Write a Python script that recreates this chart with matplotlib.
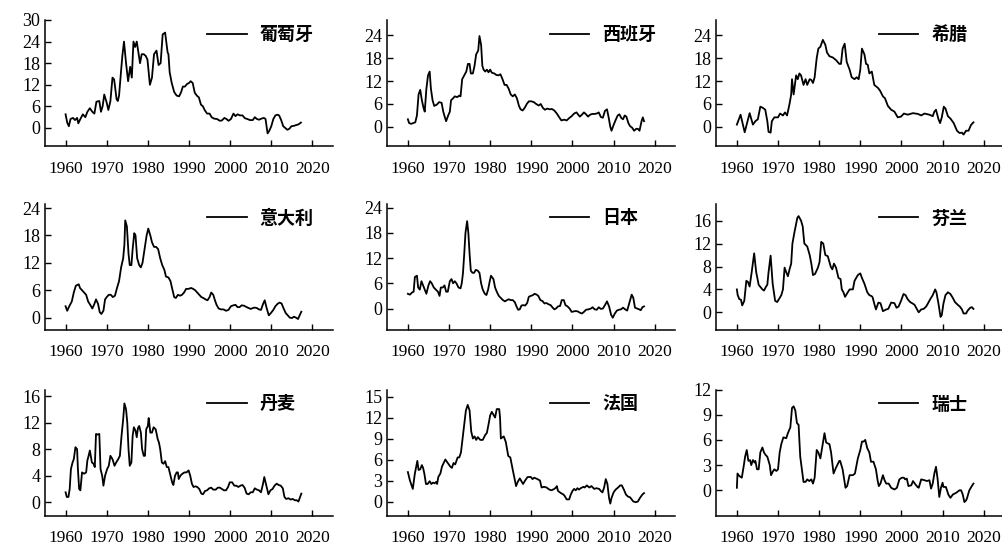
import matplotlib
matplotlib.use("Agg")
import matplotlib.pyplot as plt
import numpy as np

# ---- data: annual CPI inflation (%) ----
countries = ["葡萄牙", "西班牙", "希腊", "意大利", "日本", "芬兰", "丹麦", "法国", "瑞士"]
x_ticks = [1960, 1970, 1980, 1990, 2000, 2010, 2020]

portugal_t = [1960.0, 1960.4, 1960.8, 1961.2, 1961.8, 1962.3, 1962.8, 1963.1, 1963.6, 1964.2, 1964.8, 1965.3,
              1965.9, 1966.5, 1967.0, 1967.5, 1968.2, 1968.6, 1969.0, 1969.4, 1970.0, 1970.4, 1970.9, 1971.4,
              1971.8, 1972.4, 1972.7, 1973.0, 1973.5, 1973.8, 1974.2, 1974.7, 1975.2, 1975.7, 1976.1, 1976.5,
              1976.9, 1977.3, 1977.7, 1978.1, 1978.5, 1979.0, 1979.5, 1979.9, 1980.5, 1981.0, 1981.5, 1982.1,
              1982.6, 1983.1, 1983.6, 1984.2, 1984.8, 1985.0, 1985.3, 1985.8, 1986.4, 1987.0, 1987.6, 1988.1,
              1988.5, 1989.0, 1989.5, 1990.0, 1990.4, 1990.9, 1991.4, 1991.9, 1992.4, 1992.9, 1993.4, 1993.8,
              1994.4, 1995.0, 1995.5, 1996.1, 1996.8, 1997.5, 1998.0, 1998.6, 1999.1, 1999.6, 2000.2, 2000.8,
              2001.3, 2001.8, 2002.4, 2003.0, 2003.6, 2004.2, 2004.8, 2005.5, 2006.0, 2006.5, 2007.0, 2007.6,
              2008.2, 2008.6, 2009.1, 2009.5, 2010.0, 2010.5, 2011.0, 2011.5, 2011.9, 2012.4, 2012.9, 2013.4,
              2013.9, 2014.4, 2014.9, 2015.5, 2016.0, 2016.6, 2017.2]
portugal_v = [3.8, 1.5, 0.5, 2.5, 2.8, 2.2, 2.8, 1.3, 2.5, 3.8, 3.0, 4.5,
              5.5, 4.5, 4.0, 7.3, 7.5, 4.5, 6.0, 9.3, 7.0, 5.0, 7.5, 14.0,
              13.5, 8.0, 7.5, 9.0, 16.0, 20.0, 24.0, 18.0, 13.0, 17.0, 14.0, 24.0,
              22.5, 24.0, 21.0, 18.0, 20.5, 20.5, 20.0, 19.0, 12.0, 14.0, 20.5, 21.5,
              17.5, 18.0, 26.0, 26.5, 21.0, 20.5, 15.5, 12.5, 10.0, 9.0, 8.8, 10.0,
              11.5, 11.5, 12.2, 12.5, 13.0, 12.5, 9.8, 9.0, 8.5, 6.5, 6.0, 5.0,
              4.0, 4.0, 3.0, 2.6, 2.5, 2.0, 2.1, 2.8, 2.5, 2.0, 2.5, 4.0,
              3.3, 3.8, 3.5, 3.5, 2.7, 2.5, 2.2, 2.2, 3.0, 2.5, 2.3, 2.6,
              2.8, 2.5, -1.5, -0.8, 0.5, 2.5, 3.5, 3.7, 3.5, 2.2, 0.5, 0.0,
              -0.5, -0.2, 0.5, 0.6, 0.8, 1.0, 1.5]

spain_t = [1960.0, 1960.3, 1960.8, 1961.3, 1961.8, 1962.2, 1962.6, 1963.0, 1963.4, 1963.8, 1964.1, 1964.5,
           1964.9, 1965.3, 1965.6, 1966.0, 1966.4, 1967.0, 1967.6, 1968.2, 1968.6, 1969.0, 1969.3, 1969.8,
           1970.2, 1970.5, 1971.0, 1971.4, 1972.0, 1972.5, 1972.8, 1973.2, 1973.7, 1974.2, 1974.6, 1975.0,
           1975.3, 1975.8, 1976.2, 1976.6, 1977.1, 1977.4, 1977.8, 1978.1, 1978.4, 1978.8, 1979.2, 1979.6,
           1980.0, 1980.4, 1981.0, 1981.5, 1982.0, 1982.5, 1983.0, 1983.5, 1984.0, 1984.5, 1985.0, 1985.5,
           1986.0, 1986.5, 1987.0, 1987.4, 1987.9, 1988.4, 1988.9, 1989.4, 1990.0, 1990.6, 1991.2, 1991.8,
           1992.3, 1992.8, 1993.3, 1993.9, 1994.5, 1995.0, 1995.6, 1996.2, 1996.8, 1997.3, 1998.0, 1998.6,
           1999.2, 1999.8, 2000.4, 2001.0, 2001.4, 2001.8, 2002.3, 2002.8, 2003.3, 2003.8, 2004.3, 2004.8,
           2005.4, 2005.9, 2006.4, 2006.9, 2007.4, 2007.9, 2008.4, 2008.8, 2009.2, 2009.5, 2010.0, 2010.5,
           2011.0, 2011.4, 2011.9, 2012.3, 2012.7, 2013.1, 2013.6, 2014.0, 2014.5, 2015.0, 2015.5, 2015.9,
           2016.3, 2016.8, 2017.1, 2017.4]
spain_v = [2.0, 1.0, 0.8, 1.0, 1.2, 3.0, 8.5, 9.7, 7.0, 5.0, 4.0, 10.0,
           13.5, 14.5, 10.0, 7.0, 5.5, 5.8, 6.5, 6.3, 4.0, 2.5, 1.5, 3.0,
           4.0, 7.0, 7.5, 8.0, 7.8, 8.2, 8.0, 12.5, 13.5, 14.5, 16.5, 16.5,
           14.0, 14.0, 16.0, 19.0, 20.0, 23.8, 21.5, 16.0, 15.0, 14.5, 15.0, 14.3,
           15.0, 14.2, 14.0, 13.6, 13.5, 13.8, 12.5, 11.0, 11.0, 10.0, 8.5, 8.0,
           8.5, 7.5, 5.5, 4.6, 4.3, 5.0, 6.0, 6.7, 6.7, 6.5, 6.0, 5.6,
           6.0, 5.0, 4.5, 4.8, 4.6, 4.7, 4.3, 3.5, 2.5, 1.7, 1.9, 1.7,
           2.3, 2.8, 3.5, 3.8, 3.2, 2.7, 3.2, 3.8, 3.3, 2.7, 3.2, 3.4,
           3.4, 3.5, 3.8, 2.6, 2.4, 4.2, 4.6, 2.5, 0.0, -1.0, 0.5, 1.8,
           3.0, 3.3, 2.3, 2.0, 3.0, 2.7, 1.0, 0.2, -0.2, -1.0, -0.5, -0.5,
           -1.0, 1.5, 2.5, 1.5]

greece_t = [1960.0, 1960.9, 1961.9, 1963.1, 1963.9, 1964.5, 1965.1, 1965.7, 1966.3, 1966.9, 1967.4, 1967.7,
            1968.2, 1968.5, 1969.1, 1970.0, 1970.5, 1971.2, 1971.7, 1972.2, 1972.8, 1973.2, 1973.4, 1973.8,
            1974.4, 1974.8, 1975.2, 1975.6, 1976.2, 1976.7, 1977.1, 1977.7, 1978.1, 1978.5, 1978.9, 1979.4,
            1979.8, 1980.3, 1980.9, 1981.5, 1981.9, 1982.5, 1983.3, 1984.1, 1984.9, 1985.3, 1985.7, 1986.2,
            1986.7, 1987.4, 1987.9, 1988.6, 1989.1, 1989.6, 1990.0, 1990.4, 1991.0, 1991.4, 1991.8, 1992.2,
            1992.8, 1993.4, 1994.3, 1994.8, 1995.5, 1996.0, 1996.7, 1997.5, 1998.3, 1999.1, 1999.9, 2000.6,
            2001.5, 2002.8, 2004.0, 2004.8, 2005.6, 2006.8, 2007.6, 2008.0, 2008.4, 2009.0, 2009.4, 2009.8,
            2010.3, 2010.7, 2011.3, 2011.9, 2012.7, 2013.5, 2014.1, 2014.7, 2015.1, 2015.7, 2016.3, 2016.9,
            2017.5]
greece_v = [0.6, 3.2, -1.4, 3.6, 0.6, 1.5, 2.0, 5.3, 5.0, 4.5, 1.5, -1.3,
            -1.5, 1.5, 2.5, 2.5, 3.5, 3.0, 3.8, 3.0, 6.0, 8.5, 12.5, 8.5,
            13.5, 12.5, 14.0, 13.5, 11.0, 12.5, 11.0, 12.5, 12.3, 11.5, 13.0, 18.0,
            20.5, 21.0, 22.8, 21.5, 19.5, 18.5, 18.2, 17.5, 16.5, 16.5, 20.5, 21.8,
            17.0, 15.0, 13.0, 12.5, 13.0, 12.5, 15.0, 20.5, 19.0, 16.5, 16.3, 14.0,
            14.5, 11.0, 10.2, 9.5, 8.0, 7.5, 5.5, 4.5, 4.0, 2.5, 2.7, 3.5,
            3.2, 3.6, 3.4, 3.0, 3.5, 3.2, 2.8, 4.0, 4.5, 2.0, 1.0, 2.5,
            5.3, 4.8, 2.8, 2.2, 1.0, -1.0, -1.6, -1.5, -2.0, -1.0, -1.0, 0.5,
            1.2]

italy_t = [1960.0, 1960.4, 1960.9, 1961.5, 1962.0, 1962.5, 1963.2, 1963.5, 1964.0, 1964.5, 1965.0, 1965.5,
           1966.0, 1966.5, 1967.0, 1967.4, 1967.9, 1968.3, 1968.7, 1969.2, 1969.6, 1970.0, 1970.5, 1971.0,
           1971.5, 1972.0, 1972.5, 1973.0, 1973.5, 1974.0, 1974.3, 1974.5, 1974.9, 1975.3, 1975.6, 1976.0,
           1976.3, 1976.7, 1977.0, 1977.4, 1977.9, 1978.3, 1978.7, 1979.2, 1979.7, 1980.1, 1980.6, 1981.0,
           1981.5, 1982.0, 1982.5, 1983.0, 1983.5, 1984.0, 1984.4, 1985.0, 1985.5, 1986.0, 1986.4, 1986.8,
           1987.3, 1987.8, 1988.3, 1988.8, 1989.3, 1989.9, 1990.5, 1991.0, 1991.5, 1992.0, 1992.5, 1993.0,
           1993.5, 1994.0, 1994.5, 1995.0, 1995.4, 1995.9, 1996.3, 1996.7, 1997.2, 1997.8, 1998.4, 1999.0,
           1999.6, 2000.2, 2000.8, 2001.3, 2001.8, 2002.3, 2002.8, 2003.4, 2004.0, 2004.5, 2005.0, 2005.5,
           2006.0, 2006.5, 2007.0, 2007.5, 2008.0, 2008.4, 2008.9, 2009.4, 2009.9, 2010.5, 2011.0, 2011.5,
           2012.0, 2012.5, 2013.0, 2013.5, 2014.0, 2014.5, 2015.0, 2015.5, 2016.0, 2016.5, 2016.9, 2017.3]
italy_v = [2.5, 1.5, 2.5, 3.5, 5.5, 7.0, 7.3, 6.5, 6.0, 5.5, 5.0, 3.5,
           2.8, 2.0, 3.0, 4.0, 3.0, 1.2, 0.8, 1.5, 4.0, 4.5, 5.0, 5.0,
           4.5, 4.8, 6.5, 8.0, 11.0, 13.0, 16.0, 21.3, 20.0, 14.0, 11.5, 11.5,
           15.0, 18.5, 18.0, 13.0, 11.5, 11.0, 12.0, 15.0, 18.0, 19.5, 18.0, 16.5,
           15.5, 15.5, 15.0, 13.0, 11.5, 10.5, 9.0, 8.8, 8.0, 6.0, 4.5, 4.3,
           5.0, 4.8, 5.0, 5.5, 6.3, 6.3, 6.5, 6.3, 6.0, 5.5, 5.0, 4.5,
           4.3, 4.0, 3.8, 4.5, 5.5, 5.0, 3.8, 2.8, 2.0, 1.8, 1.8, 1.5,
           1.7, 2.5, 2.7, 2.8, 2.3, 2.3, 2.7, 2.6, 2.3, 2.1, 1.9, 2.1,
           2.2, 2.1, 1.8, 1.7, 3.0, 3.8, 2.0, 0.5, 1.0, 1.7, 2.5, 3.0,
           3.3, 3.1, 2.0, 1.0, 0.5, 0.0, -0.1, 0.2, 0.0, -0.3, 0.5, 1.3]

japan_t = [1960.0, 1960.5, 1961.0, 1961.4, 1961.7, 1962.2, 1962.5, 1962.9, 1963.3, 1963.7, 1964.1, 1964.5,
           1965.0, 1965.4, 1965.8, 1966.3, 1966.8, 1967.3, 1967.7, 1968.0, 1968.5, 1968.9, 1969.3, 1969.7,
           1970.2, 1970.6, 1971.0, 1971.4, 1971.8, 1972.3, 1972.8, 1973.1, 1973.4, 1973.7, 1974.0, 1974.4,
           1974.7, 1975.0, 1975.3, 1975.7, 1976.1, 1976.5, 1977.0, 1977.4, 1977.8, 1978.2, 1978.7, 1979.1,
           1979.5, 1979.9, 1980.2, 1980.8, 1981.2, 1981.6, 1982.1, 1982.6, 1983.1, 1983.6, 1984.1, 1984.5,
           1985.0, 1985.5, 1986.0, 1986.4, 1986.8, 1987.2, 1987.6, 1988.0, 1988.5, 1989.0, 1989.4, 1989.9,
           1990.4, 1990.8, 1991.3, 1991.7, 1992.2, 1992.7, 1993.2, 1993.7, 1994.2, 1994.7, 1995.2, 1995.6,
           1996.0, 1996.5, 1997.0, 1997.4, 1997.9, 1998.3, 1998.8, 1999.3, 1999.8, 2000.3, 2000.8, 2001.3,
           2001.8, 2002.3, 2002.8, 2003.3, 2003.9, 2004.5, 2004.9, 2005.4, 2005.9, 2006.4, 2006.9, 2007.4,
           2007.9, 2008.4, 2008.9, 2009.4, 2009.8, 2010.3, 2010.8, 2011.3, 2011.8, 2012.3, 2012.8, 2013.3,
           2013.8, 2014.4, 2014.8, 2015.2, 2015.7, 2016.2, 2016.6, 2017.0, 2017.4]
japan_v = [3.5, 3.3, 3.8, 4.0, 7.5, 7.8, 5.0, 4.5, 6.5, 5.5, 4.5, 3.5,
           5.5, 6.5, 6.0, 5.0, 4.5, 4.0, 3.0, 5.0, 5.0, 5.5, 4.0, 4.0,
           6.5, 7.0, 6.0, 6.5, 6.0, 5.0, 4.8, 6.0, 8.5, 13.0, 18.0, 20.8,
           18.0, 13.0, 9.0, 8.5, 8.5, 9.2, 9.0, 8.5, 6.0, 4.5, 3.5, 3.2,
           4.5, 6.5, 7.8, 7.0, 5.0, 4.0, 3.0, 2.5, 2.0, 1.7, 2.0, 2.2,
           2.0, 2.0, 1.5, 0.5, -0.3, -0.2, 0.7, 0.8, 0.7, 1.3, 2.8, 3.0,
           3.2, 3.5, 3.3, 3.0, 2.0, 1.8, 1.2, 1.3, 1.0, 0.8, 0.2, -0.2,
           0.0, 0.5, 0.6, 2.0, 2.0, 0.8, 0.5, 0.0, -0.8, -0.7, -0.6, -0.7,
           -1.0, -1.2, -0.8, -0.3, -0.2, 0.0, 0.3, -0.2, -0.3, 0.3, -0.1, 0.0,
           0.8, 1.7, 0.5, -1.5, -2.2, -1.2, -0.5, -0.3, -0.2, 0.2, -0.2, -0.5,
           1.2, 3.3, 2.5, 0.2, 0.0, -0.2, -0.4, 0.3, 0.5]

finland_t = [1960.0, 1960.2, 1960.6, 1961.0, 1961.3, 1961.8, 1962.3, 1962.7, 1963.1, 1963.6, 1964.2, 1964.7,
             1965.3, 1966.2, 1966.6, 1967.1, 1967.4, 1967.7, 1968.2, 1968.7, 1969.3, 1969.8, 1970.4, 1970.8,
             1971.2, 1971.6, 1972.0, 1972.4, 1972.8, 1973.2, 1973.5, 1974.0, 1974.7, 1975.0, 1975.6, 1976.0,
             1976.4, 1977.1, 1977.7, 1978.1, 1978.5, 1979.0, 1979.7, 1980.1, 1980.5, 1981.0, 1981.5, 1982.1,
             1982.8, 1983.2, 1983.6, 1984.1, 1984.7, 1985.2, 1985.5, 1985.9, 1986.3, 1986.7, 1987.4, 1988.2,
             1988.6, 1989.0, 1989.4, 1990.0, 1990.4, 1991.0, 1991.7, 1992.2, 1992.8, 1993.0, 1993.4, 1993.8,
             1994.4, 1994.9, 1995.5, 1996.3, 1996.8, 1997.5, 1998.3, 1998.8, 1999.3, 1999.9, 2000.5, 2001.0,
             2001.5, 2002.1, 2002.8, 2003.2, 2003.8, 2004.2, 2004.8, 2005.4, 2006.0, 2006.4, 2007.0, 2007.6,
             2008.2, 2008.5, 2009.0, 2009.5, 2009.8, 2010.2, 2010.7, 2011.3, 2011.9, 2012.5, 2013.0, 2013.7,
             2014.2, 2014.7, 2015.1, 2015.7, 2016.1, 2016.7, 2017.1, 2017.5]
finland_v = [4.0, 3.0, 2.3, 2.2, 1.2, 2.0, 5.5, 5.3, 4.5, 7.0, 10.3, 7.0,
             4.8, 4.0, 3.8, 4.5, 4.8, 7.0, 9.9, 5.0, 2.0, 1.8, 2.5, 3.0,
             4.0, 7.8, 7.0, 6.3, 7.5, 8.5, 12.0, 14.0, 16.5, 16.8, 16.0, 15.0,
             12.0, 11.5, 10.0, 8.5, 6.5, 6.7, 7.8, 8.8, 12.3, 12.0, 10.0, 9.8,
             8.0, 7.5, 8.5, 7.8, 6.0, 5.8, 4.0, 3.5, 2.7, 3.2, 4.0, 4.0,
             5.5, 6.0, 6.5, 6.8, 6.0, 5.0, 3.5, 3.0, 2.8, 2.6, 1.5, 0.5,
             1.7, 1.6, 0.2, 0.5, 0.6, 1.7, 1.6, 0.8, 1.0, 2.0, 3.2, 3.0,
             2.3, 1.8, 1.5, 1.3, 0.5, 0.0, 0.5, 0.6, 1.0, 1.5, 2.3, 3.0,
             4.0, 3.5, 1.5, -0.8, -0.5, 1.5, 3.0, 3.5, 3.2, 2.5, 1.8, 1.3,
             1.0, 0.5, -0.2, -0.2, 0.3, 0.8, 0.9, 0.6]

denmark_t = [1960.0, 1960.3, 1960.7, 1961.0, 1961.3, 1961.7, 1962.0, 1962.4, 1962.8, 1963.0, 1963.3, 1963.6,
             1964.0, 1964.5, 1965.0, 1965.3, 1965.6, 1965.9, 1966.4, 1966.8, 1967.1, 1967.4, 1967.8, 1968.2,
             1968.5, 1968.9, 1969.2, 1969.6, 1970.1, 1970.5, 1970.9, 1971.4, 1971.9, 1972.3, 1972.8, 1973.2,
             1973.6, 1974.0, 1974.3, 1974.7, 1975.0, 1975.3, 1975.6, 1976.0, 1976.3, 1976.6, 1977.0, 1977.3,
             1977.6, 1977.9, 1978.3, 1978.6, 1979.0, 1979.3, 1979.6, 1980.0, 1980.2, 1980.6, 1981.0, 1981.4,
             1981.9, 1982.4, 1982.7, 1983.0, 1983.4, 1983.8, 1984.2, 1984.6, 1985.0, 1985.5, 1985.9, 1986.2,
             1986.6, 1987.0, 1987.3, 1987.5, 1987.9, 1988.4, 1988.9, 1989.4, 1989.9, 1990.3, 1990.7, 1991.1,
             1991.6, 1992.0, 1992.5, 1993.0, 1993.4, 1993.9, 1994.4, 1994.9, 1995.4, 1995.9, 1996.5, 1997.0,
             1997.5, 1998.0, 1998.5, 1999.0, 1999.5, 1999.9, 2000.5, 2001.0, 2001.5, 2002.0, 2002.5, 2003.0,
             2003.5, 2004.0, 2004.5, 2005.0, 2005.5, 2006.0, 2006.5, 2007.0, 2007.5, 2008.0, 2008.3, 2008.8,
             2009.3, 2009.8, 2010.3, 2010.8, 2011.3, 2011.8, 2012.3, 2012.8, 2013.2, 2013.6, 2014.2, 2014.7,
             2015.2, 2015.7, 2016.2, 2016.6, 2017.0, 2017.3]
denmark_v = [1.5, 0.8, 0.8, 2.0, 5.0, 6.0, 6.5, 8.3, 8.0, 5.0, 2.0, 1.8,
             4.5, 4.3, 4.5, 6.3, 7.0, 7.8, 6.0, 5.8, 5.3, 10.3, 10.2, 10.3,
             5.0, 4.0, 2.5, 4.0, 5.0, 5.5, 7.0, 6.5, 5.5, 6.0, 6.5, 7.0,
             10.0, 12.5, 14.9, 14.0, 12.0, 8.0, 5.5, 6.0, 10.0, 11.3, 10.8, 9.8,
             11.2, 11.5, 10.5, 8.0, 7.0, 7.0, 11.0, 11.5, 12.7, 10.5, 10.5, 11.3,
             11.0, 9.5, 9.0, 8.0, 6.0, 5.8, 6.2, 5.3, 5.3, 4.0, 3.0, 2.6,
             4.0, 4.5, 4.5, 3.5, 4.0, 4.3, 4.5, 4.5, 4.8, 4.0, 2.8, 2.3,
             2.4, 2.3, 2.0, 1.3, 1.2, 1.7, 1.8, 2.1, 2.2, 1.9, 1.9, 2.2,
             2.2, 2.0, 1.8, 1.8, 2.3, 3.0, 3.0, 2.5, 2.5, 2.3, 2.5, 2.6,
             2.2, 1.3, 1.2, 1.5, 1.5, 2.1, 1.9, 1.8, 1.5, 2.8, 3.8, 2.5,
             1.2, 1.8, 2.0, 2.5, 2.8, 2.6, 2.5, 2.1, 0.8, 0.5, 0.6, 0.4,
             0.5, 0.3, 0.3, 0.1, 0.8, 1.3]

france_t = [1960.0, 1960.5, 1961.2, 1961.7, 1962.3, 1962.6, 1963.0, 1963.4, 1963.7, 1964.0, 1964.4, 1964.8,
            1965.3, 1965.7, 1966.1, 1966.5, 1966.9, 1967.1, 1967.4, 1967.9, 1968.3, 1968.7, 1969.1, 1969.7,
            1970.3, 1970.7, 1971.1, 1971.5, 1972.1, 1972.5, 1972.9, 1973.5, 1974.1, 1974.55, 1975.0, 1975.4,
            1975.8, 1976.2, 1976.6, 1977.0, 1977.6, 1978.2, 1978.8, 1979.2, 1979.6, 1980.0, 1980.4, 1980.9,
            1981.2, 1981.6, 1982.2, 1982.4, 1982.6, 1983.3, 1983.8, 1984.4, 1984.9, 1985.5, 1986.3, 1986.7,
            1987.2, 1987.7, 1988.0, 1988.5, 1989.1, 1989.9, 1990.3, 1990.7, 1991.5, 1992.1, 1992.5, 1993.1,
            1993.7, 1994.4, 1994.9, 1995.6, 1996.0, 1996.2, 1996.5, 1997.2, 1997.8, 1998.1, 1998.6, 1999.2,
            1999.6, 2000.0, 2000.4, 2000.8, 2001.2, 2001.6, 2002.0, 2002.7, 2003.0, 2003.5, 2004.1, 2004.6,
            2005.3, 2005.8, 2006.5, 2006.9, 2007.3, 2007.7, 2008.1, 2008.5, 2008.9, 2009.2, 2009.5, 2010.0,
            2010.5, 2011.1, 2011.6, 2012.0, 2012.5, 2013.0, 2013.5, 2014.0, 2014.4, 2014.8, 2015.4, 2015.9,
            2016.4, 2017.0, 2017.4]
france_v = [4.2, 3.0, 1.8, 4.0, 5.8, 4.5, 4.6, 5.2, 4.8, 4.0, 2.5, 2.5,
            2.9, 2.5, 2.7, 2.6, 2.8, 2.5, 3.5, 4.0, 5.0, 5.5, 6.0, 5.5,
            5.0, 4.8, 5.5, 5.3, 6.3, 6.3, 7.0, 10.0, 13.0, 13.8, 13.0, 10.0,
            9.0, 9.3, 8.8, 9.2, 8.8, 8.8, 9.5, 9.8, 11.0, 12.3, 12.8, 12.3,
            12.0, 13.2, 13.2, 12.0, 9.0, 9.3, 8.5, 6.5, 6.3, 4.5, 2.2, 2.8,
            3.3, 2.8, 2.5, 3.0, 3.5, 3.5, 3.2, 3.4, 3.2, 3.0, 2.0, 2.1,
            2.0, 1.7, 1.6, 1.8, 2.0, 2.2, 1.5, 1.2, 1.0, 0.8, 0.3, 0.3,
            1.0, 1.5, 1.8, 1.6, 1.9, 1.7, 1.9, 2.1, 2.0, 2.3, 2.0, 2.2,
            1.8, 1.9, 1.8, 1.5, 1.3, 2.0, 3.2, 2.5, 0.5, -0.3, 0.5, 1.3,
            1.7, 2.0, 2.3, 2.3, 1.7, 1.0, 0.7, 0.6, 0.3, 0.0, -0.1, 0.0,
            0.5, 1.0, 1.2]

swiss_t = [1960.0, 1960.15, 1960.6, 1961.2, 1961.7, 1962.0, 1962.4, 1962.8, 1963.2, 1963.5, 1963.9, 1964.3,
           1964.5, 1964.9, 1965.3, 1965.7, 1966.2, 1966.6, 1967.0, 1967.4, 1967.7, 1968.0, 1968.3, 1968.7,
           1969.1, 1969.6, 1970.0, 1970.4, 1970.8, 1971.3, 1972.0, 1972.4, 1973.0, 1973.4, 1973.8, 1974.2,
           1974.6, 1975.0, 1975.4, 1975.8, 1976.2, 1976.7, 1977.1, 1977.6, 1978.1, 1978.5, 1978.9, 1979.4,
           1979.8, 1980.3, 1980.7, 1981.3, 1981.7, 1982.0, 1982.5, 1982.9, 1983.5, 1984.1, 1984.9, 1985.1,
           1985.7, 1986.4, 1986.8, 1987.4, 1988.2, 1988.7, 1989.4, 1990.0, 1990.4, 1990.8, 1991.2, 1991.7,
           1992.2, 1992.6, 1993.2, 1993.8, 1994.2, 1994.5, 1994.9, 1995.5, 1995.9, 1996.3, 1996.9, 1997.5,
           1998.3, 1998.9, 1999.5, 2000.1, 2000.6, 2000.9, 2001.3, 2001.7, 2002.4, 2002.8, 2003.4, 2003.9,
           2004.2, 2004.8, 2005.6, 2006.2, 2006.8, 2007.2, 2007.6, 2008.0, 2008.4, 2008.8, 2009.2, 2009.6,
           2010.0, 2010.2, 2010.8, 2011.4, 2011.9, 2012.5, 2013.3, 2014.1, 2014.5, 2014.9, 2015.3, 2015.7,
           2015.9, 2016.5, 2017.1, 2017.5]
swiss_v = [0.3, 2.0, 1.7, 1.5, 3.0, 4.0, 4.8, 3.5, 3.6, 3.0, 3.6, 3.3,
           3.5, 2.5, 2.5, 4.5, 5.1, 4.5, 4.2, 4.0, 3.5, 3.0, 1.8, 2.2,
           2.5, 2.3, 2.5, 4.5, 5.5, 6.3, 6.2, 6.8, 7.5, 9.8, 10.0, 9.5,
           8.0, 7.8, 4.0, 2.5, 1.0, 1.0, 1.3, 1.1, 1.3, 0.8, 1.5, 4.8,
           4.5, 3.8, 5.0, 6.8, 5.7, 5.6, 5.5, 4.5, 2.0, 2.7, 3.5, 3.5,
           2.5, 0.3, 0.5, 1.8, 1.8, 2.0, 3.8, 4.8, 5.8, 5.8, 6.0, 5.0,
           4.5, 3.4, 3.4, 2.5, 1.2, 0.5, 0.8, 1.8, 1.2, 0.8, 0.8, 0.3,
           0.1, 0.3, 1.3, 1.5, 1.5, 1.3, 1.4, 0.5, 0.6, 1.1, 0.7, 0.4,
           0.3, 1.3, 1.2, 1.1, 1.2, 0.2, 0.8, 2.0, 2.8, 1.3, -0.8, 0.3,
           0.9, 0.4, 0.4, -0.5, -0.9, -0.5, -0.3, 0.0, 0.0, -0.5, -1.4, -1.2,
           -1.0, 0.0, 0.5, 0.8]

series = [(portugal_t, portugal_v), (spain_t, spain_v), (greece_t, greece_v),
          (italy_t, italy_v), (japan_t, japan_v), (finland_t, finland_v),
          (denmark_t, denmark_v), (france_t, france_v), (swiss_t, swiss_v)]

y_limits = [(-5, 30), (-5, 28), (-5, 28),
            (-2.6, 25), (-5, 25), (-3, 19),
            (-2, 17), (-2, 16), (-3, 12)]
y_ticks = [range(0, 31, 6), range(0, 25, 6), range(0, 25, 6),
           range(0, 25, 6), range(0, 25, 6), range(0, 17, 4),
           range(0, 17, 4), range(0, 16, 3), range(0, 13, 3)]

# ---- layout (pixels on a 1003 x 546 canvas) ----
W, H = 1003, 546
col_left = [45, 387.3, 716.3]
row_top = [20.0, 203.5, 389.5]
ax_w, ax_h = 288, 126

plt.rcParams["font.family"] = ["Liberation Serif", "DejaVu Serif"]
fig = plt.figure(figsize=(W / 100, H / 100), dpi=100)

for i, name in enumerate(countries):
    r, c = divmod(i, 3)
    ax = fig.add_axes([col_left[c] / W, (H - row_top[r] - ax_h) / H, ax_w / W, ax_h / H])
    t, v = series[i]
    ax.plot(t, v, color="black", lw=1.3, label=name)
    ax.set_xlim(1955, 2025)
    ax.set_ylim(*y_limits[i])
    ax.set_xticks(x_ticks)
    ax.set_yticks(list(y_ticks[i]))
    for side in ("top", "right"):
        ax.spines[side].set_visible(False)
    for side in ("left", "bottom"):
        ax.spines[side].set_linewidth(1.1)
    ax.tick_params(axis="both", direction="in", length=4, width=1.0, colors="black")
    ax.tick_params(axis="x", pad=10.5, labelsize=12.5)
    ax.tick_params(axis="y", pad=3.5, labelsize=13)
    ax.legend(loc="center left", bbox_to_anchor=(0.564, 0.885), frameon=False,
              borderpad=0, borderaxespad=0, handlelength=2.2, handletextpad=0.7,
              prop={"family": ["Noto Sans CJK SC"], "weight": "bold", "size": 13})

fig.savefig("out.png", dpi=100)
